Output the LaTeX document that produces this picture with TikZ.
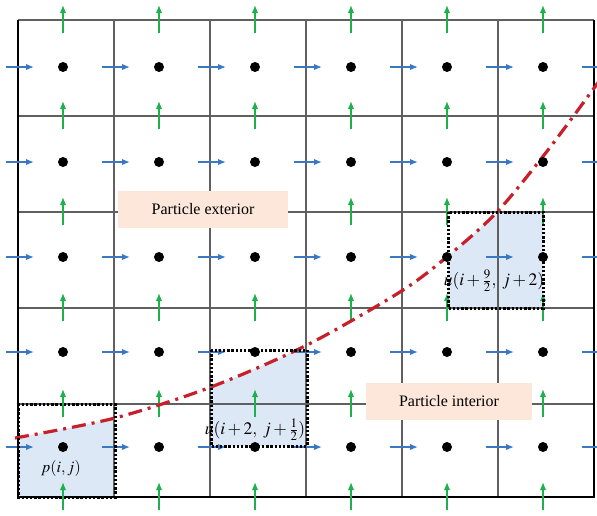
\documentclass[tikz,border=0pt]{standalone}
\usepackage{mathptmx}
\usepackage[no-math]{fontspec}
\setmainfont{Liberation Serif}
\usepackage{tikz}
\usetikzlibrary{arrows.meta}
\definecolor{ublue}{HTML}{3A78C4}
\definecolor{vgreen}{HTML}{1DB04E}
\definecolor{curvered}{HTML}{C8202B}
\definecolor{cellblue}{HTML}{DDE8F6}
\definecolor{labelpeach}{HTML}{FCE7DA}
\tikzset{
  gridline/.style={gray!75!black, line width=1.1pt},
  border/.style={black, line width=1.9pt},
  uflux/.style={-{Latex[length=8pt,width=6.5pt]}, ublue, line width=1.5pt},
  vflux/.style={-{Latex[length=8pt,width=6.5pt]}, vgreen, line width=1.5pt},
  pnode/.style={circle, fill=black, inner sep=0pt, minimum size=10pt},
  cvbox/.style={black, line width=3pt, dash pattern=on 2.4pt off 1.8pt},
  interface/.style={curvered, line width=3.2pt, dash pattern=on 14pt off 6pt on 3pt off 6pt},
  region/.style={fill=labelpeach, minimum height=37pt, font=\fontsize{16}{19}\selectfont},
  cvlabel/.style={font=\fontsize{16}{19}\selectfont, inner sep=0pt}
}

\begin{document}
\begin{tikzpicture}[x=1pt, y=-1pt]
  \useasboundingbox (0,0) rectangle (597,515);

  % shaded parts of the control volumes
  \begin{scope}
    \clip (18,404) rectangle (115,497) (211,350) rectangle (307,446) (448,212) rectangle (543,308);
    \fill[cellblue] plot[smooth] coordinates {(15,438) (115,418) (211,387) (307,345) (400,292) (448,256) (497,212) (548,150) (600,80)}
      -- (600,520) -- (0,520) -- cycle;
  \end{scope}

  % grid
  \foreach \x in {114,210,...,498} \draw[gridline] (\x,20) -- (\x,497);
  \foreach \y in {20,116,212,308,404} \draw[gridline] (18,\y) -- (594,\y);
  \draw[border] (18,20) -- (18,497) -- (594,497) -- (594,20);

  % velocities on the faces
  \foreach \x in {18,114,...,594}
    \foreach \y in {67,162,257,352,447}
      \draw[uflux] ({\x-12},\y) -- ({\x+16},\y);
  \foreach \x in {63,159,...,543}
    \foreach \y in {20,116,212,308,404,497}
      \draw[vflux] (\x,{\y+13}) -- (\x,{\y-15});

  % interface
  \draw[interface] plot[smooth] coordinates {(15,438) (115,418) (211,387) (307,345) (400,292) (448,256) (497,212) (548,150) (600,80)};

  % control volumes
  \draw[cvbox] (18,404) rectangle (115,497);
  \draw[cvbox] (211,350) rectangle (307,446);
  \draw[cvbox] (448,212) rectangle (543,308);

  % pressure nodes
  \foreach \i in {0,...,5}
    \foreach \j in {0,...,4}
      \node[pnode] (p-\i-\j) at ({63+96*\i},{67+95*\j}) {};

  % labels
  \node[region, minimum width=170pt] (ext) at (203,209.5) {Particle exterior};
  \node[region, minimum width=166pt] (int) at (449,401) {Particle interior};
  \node[cvlabel] (pij) at (61,468) {$p(i,j)$};
  \node[cvlabel, font=\fontsize{17.5}{20}\selectfont] (ulow) at (255,430) {$u(i+2,\; j+\frac{1}{2})$};
  \node[cvlabel, font=\fontsize{17.5}{20}\selectfont] (uhigh) at (494,281) {$u(i+\frac{9}{2},\; j+2)$};

\end{tikzpicture}
\end{document}
